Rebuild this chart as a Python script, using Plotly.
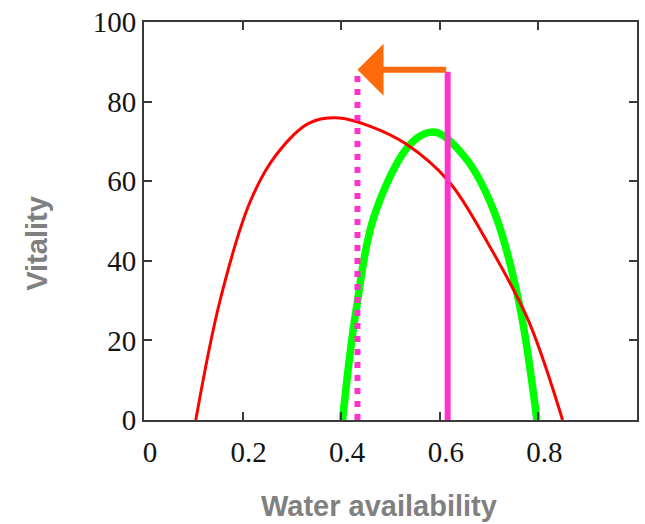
import plotly.graph_objects as go

# ---- data ----
red_x = [0.105, 0.154, 0.2155, 0.268, 0.335, 0.396, 0.463, 0.531, 0.618,
         0.699, 0.780, 0.849]
red_y = [0.0, 29.9, 54.9, 66.6, 74.6, 75.9, 73.6, 69.4, 60.0,
         44.1, 24.9, 0.0]

green_x = [0.4027, 0.430, 0.470, 0.544, 0.591, 0.653, 0.710, 0.760, 0.797]
green_y = [0.0, 27.4, 52.4, 69.8, 72.3, 65.7, 52.4, 29.9, 0.0]

dotted_x = [0.433, 0.433]
dotted_y = [0.0, 87.5]
solid_x = [0.616, 0.616]
solid_y = [0.0, 87.5]

arrow_start_x = 0.616
arrow_end_x = 0.433
arrow_y = 88.0

x_tickvals = [0, 0.2, 0.4, 0.6, 0.8]
x_ticktext = ["0", "0.2", "0.4", "0.6", "0.8"]
y_tickvals = [0, 20, 40, 60, 80, 100]
y_ticktext = ["0", "20", "40", "60", "80", "100"]

x_title = "Water availability"
y_title = "Vitality"

RED = "#FF0000"
GREEN = "#00FF00"
MAGENTA = "#FF33CC"
ORANGE = "#FF6A0A"
FRAME = "#3a3a3a"
TICKFONT = dict(family="Liberation Serif, Times New Roman, serif", size=29, color="#141414")
TITLEFONT = dict(family="Liberation Sans, Arial, sans-serif", size=29, color="#808080")

W, H = 645, 524
plot_l, plot_r, plot_t, plot_b = 144, 6, 19, 104
plot_w = W - plot_l - plot_r
plot_h = H - plot_t - plot_b

fig = go.Figure()
fig.add_trace(go.Scatter(x=green_x, y=green_y, mode="lines",
                         line=dict(color=GREEN, width=7.5, shape="spline", smoothing=1.0),
                         hoverinfo="skip", showlegend=False))
fig.add_trace(go.Scatter(x=red_x, y=red_y, mode="lines",
                         line=dict(color=RED, width=3, shape="spline", smoothing=1.0),
                         hoverinfo="skip", showlegend=False))
fig.add_trace(go.Scatter(x=dotted_x, y=dotted_y, mode="lines",
                         line=dict(color=MAGENTA, width=6, dash="6px,7px"),
                         hoverinfo="skip", showlegend=False))
fig.add_trace(go.Scatter(x=solid_x, y=solid_y, mode="lines",
                         line=dict(color=MAGENTA, width=6),
                         hoverinfo="skip", showlegend=False))

fig.add_annotation(x=arrow_end_x, y=arrow_y, ax=arrow_start_x, ay=arrow_y,
                   xref="x", yref="y", axref="x", ayref="y",
                   showarrow=True, arrowhead=1, arrowsize=1.45, arrowwidth=6,
                   arrowcolor=ORANGE, text="")
fig.add_annotation(x=(380 - plot_l) / plot_w, y=(H - 507 - plot_b) / plot_h,
                   xref="paper", yref="paper", text=f"<b>{x_title}</b>",
                   showarrow=False, font=TITLEFONT, xanchor="center", yanchor="middle")
fig.add_annotation(x=(37 - plot_l) / plot_w, y=(H - 242 - plot_b) / plot_h,
                   xref="paper", yref="paper", text=f"<b>{y_title}</b>", textangle=-90,
                   showarrow=False, font=TITLEFONT, xanchor="center", yanchor="middle")

fig.update_layout(
    width=W, height=H,
    margin=dict(l=plot_l, r=plot_r, t=plot_t, b=plot_b),
    paper_bgcolor="white", plot_bgcolor="white",
    showlegend=False,
    xaxis=dict(range=[0, 1], tickvals=x_tickvals, ticktext=x_ticktext,
               showgrid=False, zeroline=False, showline=True, linecolor=FRAME, linewidth=2,
               mirror="ticks", ticks="inside", ticklen=8, tickwidth=1.5, tickcolor=FRAME,
               tickfont=TICKFONT, ticklabelshift=6, ticklabelstandoff=5),
    yaxis=dict(range=[0, 100], tickvals=y_tickvals, ticktext=y_ticktext,
               showgrid=False, zeroline=False, showline=True, linecolor=FRAME, linewidth=2,
               mirror="ticks", ticks="inside", ticklen=8, tickwidth=1.5, tickcolor=FRAME,
               tickfont=TICKFONT, ticklabelstandoff=0),
)

fig.write_html("out.html", config={"displayModeBar": False},
               post_script="document.body.style.margin='0';document.body.style.overflow='hidden';")
